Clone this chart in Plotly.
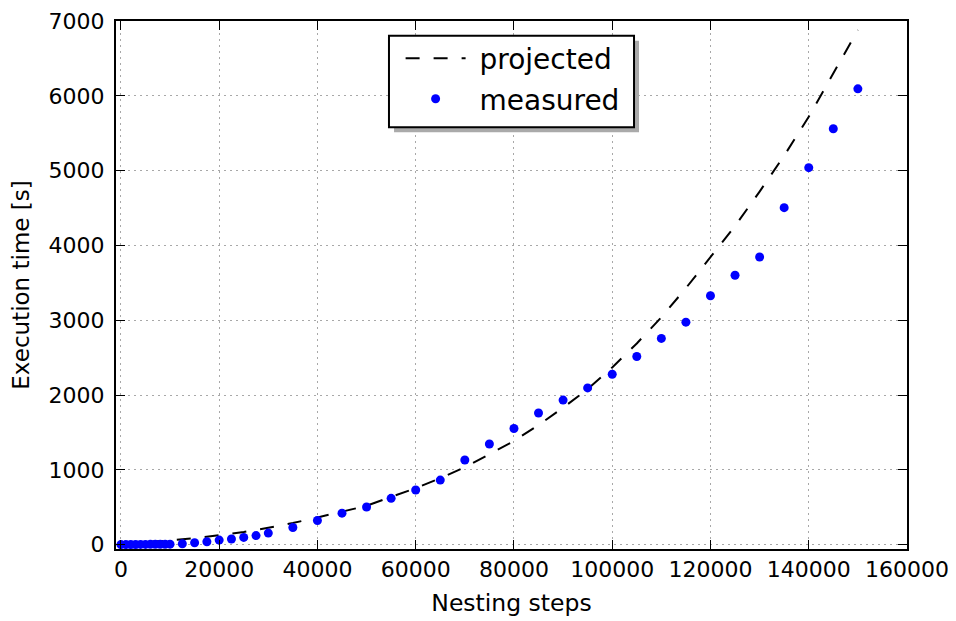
import plotly.graph_objects as go

# Measured data
measured_x = [0, 1000, 2000, 3000, 4000, 5000, 6000, 7000, 8000, 9000, 10000,
              12500, 15000, 17500, 20000, 22500, 25000, 27500, 30000,
              35000, 40000, 45000, 50000, 55000, 60000, 65000, 70000, 75000,
              80000, 85000, 90000, 95000, 100000, 105000, 110000, 115000,
              120000, 125000, 130000, 135000, 140000, 145000, 150000]
measured_y = [2, 2, 3, 3, 4, 4, 5, 6, 6, 7, 8,
              13, 27, 40, 62, 76, 98, 122, 156,
              231, 324, 422, 505, 620, 731, 864, 1133, 1347,
              1553, 1760, 1933, 2096, 2278, 2516, 2758, 2975,
              3328, 3602, 3845, 4505, 5040, 5560, 6093]

# Projected curve
projected_x = [0, 5000, 10000, 15000, 20000, 25000, 30000, 35000, 40000, 45000,
               50000, 55000, 60000, 65000, 70000, 75000, 80000, 85000, 90000,
               95000, 100000, 105000, 110000, 115000, 120000, 125000, 130000,
               135000, 140000, 145000, 150000]
projected_y = [20, 35, 57, 88, 124, 170, 227, 290, 364, 440,
               520, 640, 756, 890, 1036, 1210, 1387, 1600, 1831,
               2080, 2370, 2690, 3040, 3430, 3850, 4260, 4720,
               5200, 5720, 6300, 6880]

x_ticks = [0, 20000, 40000, 60000, 80000, 100000, 120000, 140000, 160000]
y_ticks = [0, 1000, 2000, 3000, 4000, 5000, 6000, 7000]

FONT = "DejaVu Sans"

fig = go.Figure()
fig.add_trace(go.Scatter(
    x=projected_x, y=projected_y, mode="lines", name="\u00a0projected",
    line=dict(color="black", width=2, dash="14px,14px"),
    legendgroup="a",
))
fig.add_trace(go.Scatter(
    x=measured_x, y=measured_y, mode="markers", name="\u00a0measured",
    marker=dict(color="#0000ff", size=9, line=dict(width=0)),
    legendgroup="b",
))

axis_common = dict(
    showline=True, linecolor="black", linewidth=2, mirror="ticks",
    ticks="inside", ticklen=9, tickwidth=1, tickcolor="black",
    showgrid=True, gridcolor="#a8a8a8", gridwidth=1, griddash="2px,4px",
    zeroline=False, automargin=False,
    tickfont=dict(family=FONT, size=22, color="black"),
)

fig.update_xaxes(
    range=[-1000, 160000], tickvals=x_ticks, tickformat="d",
    title=dict(text="Nesting steps", font=dict(family=FONT, size=23.5, color="black"), standoff=13),
    **axis_common,
)
fig.update_yaxes(
    range=[-57, 7000], tickvals=y_ticks, tickformat="d",
    ticklabelstandoff=5,
    title=dict(text="Execution time [s]", font=dict(family=FONT, size=23, color="black"), standoff=14),
    **axis_common,
)

# legend shadow and frame
fig.add_shape(type="rect", xref="paper", yref="paper",
              x0=0.3515, x1=0.6612, y0=0.7893, y1=0.9627,
              fillcolor="#aaaaaa", line=dict(width=0), layer="above")
fig.add_shape(type="rect", xref="paper", yref="paper",
              x0=0.3451, x1=0.6549, y0=0.7987, y1=0.9722,
              fillcolor="white", line=dict(color="black", width=2), layer="above")

fig.update_layout(
    width=956, height=621,
    margin=dict(l=108, r=57, t=13, b=80),
    paper_bgcolor="white", plot_bgcolor="white",
    font=dict(family=FONT, color="black"),
    showlegend=True,
    legend=dict(
        x=0.3598, y=0.976, xanchor="left", yanchor="top",
        font=dict(family=FONT, size=28, color="black"),
        bgcolor="rgba(0,0,0,0)", borderwidth=0,
        itemwidth=60, tracegroupgap=1,
    ),
)

fig.write_html("out.html")
